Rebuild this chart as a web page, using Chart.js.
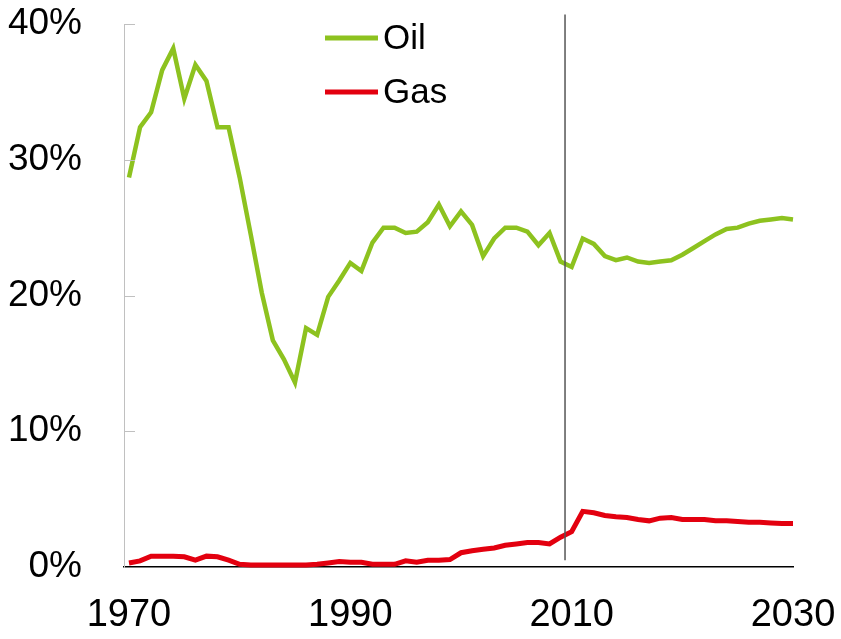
<!DOCTYPE html>
<html>
<head>
<meta charset="utf-8">
<script src="https://cdn.jsdelivr.net/npm/chart.js@4/dist/chart.umd.min.js"></script>
<style>
    html, body { margin: 0; padding: 0; background: #fff; }
    #wrap { width: 841px; height: 639px; }
</style>
</head>
<body>
<div id="wrap"><canvas id="shareChart"></canvas></div>
<script>
const years = [
    1970, 1971, 1972, 1973, 1974, 1975, 1976, 1977, 1978, 1979,
    1980, 1981, 1982, 1983, 1984, 1985, 1986, 1987, 1988, 1989,
    1990, 1991, 1992, 1993, 1994, 1995, 1996, 1997, 1998, 1999,
    2000, 2001, 2002, 2003, 2004, 2005, 2006, 2007, 2008, 2009,
    2010, 2011, 2012, 2013, 2014, 2015, 2016, 2017, 2018, 2019,
    2020, 2021, 2022, 2023, 2024, 2025, 2026, 2027, 2028, 2029,
    2030
];
const oil = [
    28.7, 32.4, 33.5, 36.6, 38.2, 34.5, 37.0, 35.8, 32.4, 32.4,
    28.7, 24.5, 20.2, 16.7, 15.3, 13.6, 17.6, 17.1, 19.9, 21.1,
    22.4, 21.8, 23.9, 25.0, 25.0, 24.6, 24.7, 25.4, 26.7, 25.1,
    26.2, 25.2, 22.9, 24.2, 25.0, 25.0, 24.7, 23.7, 24.6, 22.5,
    22.1, 24.2, 23.8, 22.9, 22.6, 22.8, 22.5, 22.4, 22.5, 22.6,
    23.0, 23.5, 24.0, 24.5, 24.9, 25.0, 25.3, 25.5, 25.6, 25.7,
    25.6
];
const gas = [
    0.3, 0.45, 0.8, 0.8, 0.8, 0.75, 0.5, 0.8, 0.75, 0.5,
    0.2, 0.15, 0.15, 0.15, 0.15, 0.15, 0.15, 0.2, 0.3, 0.4,
    0.35, 0.35, 0.2, 0.2, 0.2, 0.45, 0.35, 0.5, 0.5, 0.55,
    1.05, 1.2, 1.3, 1.4, 1.6, 1.7, 1.8, 1.8, 1.7, 2.2,
    2.6, 4.1, 4.0, 3.8, 3.7, 3.65, 3.5, 3.4, 3.6, 3.65,
    3.5, 3.5, 3.5, 3.4, 3.4, 3.35, 3.3, 3.3, 3.25, 3.2,
    3.2
];
const yTicks = [0, 10, 20, 30, 40];
const xTicks = [1970, 1990, 2010, 2030];
const splitYear = 2009.4;

const oilColor = '#8dc21f';
const gasColor = '#e3000f';
const font = 'Liberation Sans, Arial, sans-serif';

// vertical marker, inward y ticks and the in-plot legend
const extras = {
    id: 'extras',
    afterDraw(chart) {
        const ctx = chart.ctx;
        const x = chart.scales.x, y = chart.scales.y;
        const area = chart.chartArea;
        ctx.save();

        ctx.strokeStyle = '#c0c0c0';
        ctx.lineWidth = 1;
        yTicks.slice(1).forEach(v => {
            const py = Math.round(y.getPixelForValue(v)) + 0.5;
            ctx.beginPath();
            ctx.moveTo(area.left, py);
            ctx.lineTo(area.left + 11, py);
            ctx.stroke();
        });

        const px = x.getPixelForValue(splitYear);
        ctx.strokeStyle = '#555';
        ctx.lineWidth = 1.5;
        ctx.beginPath();
        ctx.moveTo(px, y.getPixelForValue(40.7));
        ctx.lineTo(px, y.getPixelForValue(0.5));
        ctx.stroke();

        ctx.font = '35px ' + font;
        ctx.textBaseline = 'middle';
        ctx.fillStyle = '#000';
        chart.data.datasets.forEach((ds, i) => {
            const ly = area.top + 14 + i * 54;
            const lx = area.left + 201;
            ctx.strokeStyle = ds.borderColor;
            ctx.lineWidth = 5;
            ctx.beginPath();
            ctx.moveTo(lx, ly);
            ctx.lineTo(lx + 53, ly);
            ctx.stroke();
            ctx.fillText(ds.label, lx + 58, ly + 1);
        });
        ctx.restore();
    }
};

new Chart(document.getElementById('shareChart'), {
    type: 'line',
    data: {
        datasets: [{
            label: 'Oil',
            data: years.map((yr, i) => ({ x: yr, y: oil[i] })),
            borderColor: oilColor,
            borderWidth: 4.5,
            pointRadius: 0,
            tension: 0,
            clip: false
        }, {
            label: 'Gas',
            data: years.map((yr, i) => ({ x: yr, y: gas[i] })),
            borderColor: gasColor,
            borderWidth: 5,
            pointRadius: 0,
            tension: 0,
            clip: false
        }]
    },
    options: {
        responsive: true,
        maintainAspectRatio: false,
        animation: false,
        layout: { padding: { left: 6, right: 48, top: 24, bottom: 0 } },
        plugins: {
            legend: { display: false },
            tooltip: { enabled: false }
        },
        scales: {
            x: {
                type: 'linear',
                min: 1969.55,
                max: 2030,
                afterBuildTicks: s => { s.ticks = xTicks.map(v => ({ value: v })); },
                afterFit: s => { s.height = 72; s.paddingLeft = 0; s.paddingRight = 0; },
                grid: { display: false, drawTicks: false },
                border: { color: '#000', width: 1.5 },
                ticks: {
                    color: '#000',
                    font: { family: font, size: 38 },
                    padding: 26,
                    maxRotation: 0,
                    callback: v => String(v)
                }
            },
            y: {
                min: 0,
                max: 40,
                afterBuildTicks: s => { s.ticks = yTicks.map(v => ({ value: v })); },
                afterFit: s => { s.width = 118; s.paddingTop = 0; s.paddingBottom = 0; },
                grid: { display: false, drawTicks: false },
                border: { color: '#c0c0c0', width: 1 },
                ticks: {
                    color: '#000',
                    font: { family: font, size: 37 },
                    padding: 42,
                    callback: v => v + '%'
                }
            }
        }
    },
    plugins: [extras]
});
</script>
</body>
</html>
